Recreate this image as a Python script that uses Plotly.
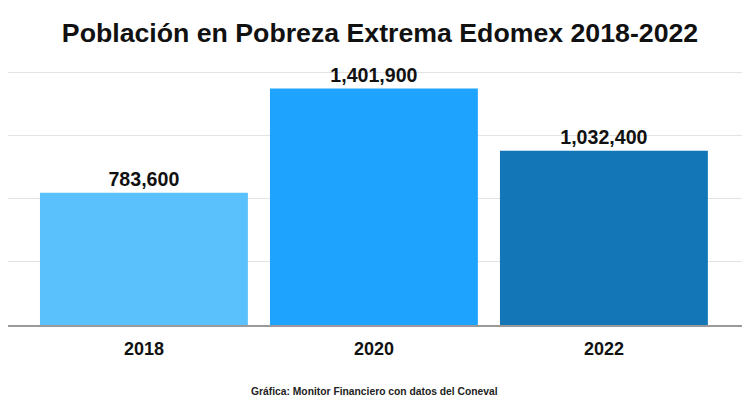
import plotly.graph_objects as go

years = ["2018", "2020", "2022"]
values = [783600, 1401900, 1032400]
labels = ["783,600", "1,401,900", "1,032,400"]
colors = ["#5bc1fc", "#1ea3fe", "#1376b6"]

fig = go.Figure()
fig.add_trace(go.Bar(
    x=[0, 1, 2], y=values, width=0.904,
    marker=dict(color=colors, line=dict(width=0)),
    text=labels, textposition="outside", cliponaxis=False,
    textfont=dict(family="Liberation Sans, Arial", size=19.6, color="#111111", weight="bold"),
    hoverinfo="skip",
))

fig.update_layout(
    width=750, height=419,
    margin=dict(l=0, r=0, t=62, b=102),
    paper_bgcolor="white", plot_bgcolor="white",
    showlegend=False,
    title=dict(text="<b>Población en Pobreza Extrema Edomex 2018-2022</b>",
               x=0.496, xanchor="center", y=0.94, yanchor="middle",
               font=dict(family="Liberation Sans, Arial", size=26.7, color="#111111")),
    xaxis=dict(range=[-0.591, 2.670], tickmode="array", tickvals=[0, 1, 2],
               ticktext=["<b>%s</b>" % y for y in years],
               tickfont=dict(family="Liberation Sans, Arial", size=18, color="#111111"),
               showgrid=False, showline=True, linecolor="#9a9a9a", linewidth=1.5,
               ticks="", ticklabelstandoff=7, fixedrange=True),
    yaxis=dict(range=[0, 1511858], tickvals=[375000, 750000, 1125000, 1500000],
               showticklabels=False, showgrid=True, gridcolor="#e3e3e3", gridwidth=1,
               zeroline=False, fixedrange=True),
    annotations=[dict(text="<b>Gráfica: Monitor Financiero con datos del Coneval</b>",
                      xref="paper", yref="paper", x=0.488, y=-0.26, xanchor="center", yanchor="middle",
                      showarrow=False,
                      font=dict(family="Liberation Sans, Arial", size=10.3, color="#222222"))],
)

fig.write_html("out.html")
